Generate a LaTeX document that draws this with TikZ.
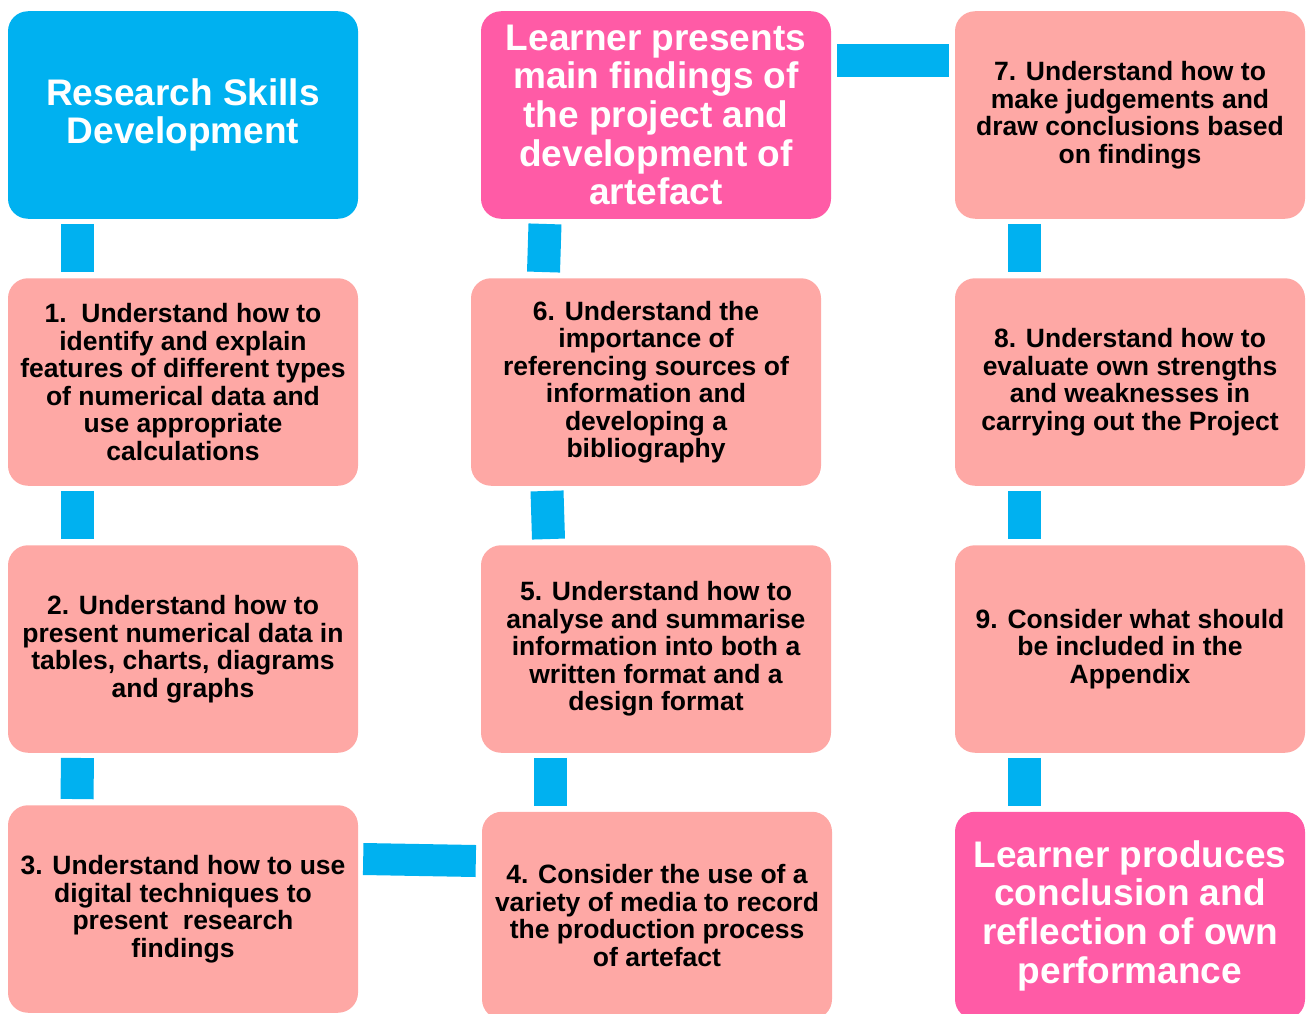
\documentclass[tikz,border=0pt]{standalone}
\usepackage{fontspec}
\setmainfont{Liberation Sans}
\usetikzlibrary{calc}
\definecolor{cblue}{HTML}{00B1F0}
\definecolor{hotpink}{HTML}{FF5BA6}
\definecolor{salmon}{HTML}{FEA8A5}
\tikzset{
  box/.style={rounded corners=20pt, minimum width=350pt, minimum height=207.5pt,
    inner sep=0pt, align=center},
  small/.style={box, fill=salmon, text=black,
    font=\fontsize{26.5}{27.5}\selectfont\bfseries},
  big/.style={box, text=white, font=\fontsize{37}{38.7}\selectfont\bfseries},
  conn/.style={draw=cblue, line width=33pt, line cap=butt}
}
\begin{document}
\begin{tikzpicture}[x=1pt, y=-1pt]
\useasboundingbox (0,0) rectangle (1306,1014);
% boxes
\node[big, fill=cblue] (rs) at (183,115) {Research Skills\\Development};
\node[big, fill=hotpink] (lp) at (656,115) {Learner presents\\main findings of\\the project and\\development of\\artefact};
\node[small] (b7) at (1130,115) {7. Understand how to\\make judgements and\\draw conclusions based\\on findings};
\node[small] (b1) at (183,382) {1.\ \ Understand how to\\identify and explain\\features of different types\\of numerical data and\\use appropriate\\calculations};
\node[small] (b6) at (646,382) {6. Understand the\\importance of\\referencing sources of\\information and\\developing a\\bibliography};
\node[small] (b8) at (1130,382) {8. Understand how to\\evaluate own strengths\\and weaknesses in\\carrying out the Project};
\node[small] (b2) at (183,649) {2. Understand how to\\present numerical data in\\tables, charts, diagrams\\and graphs};
\node[small] (b5) at (656,649) {5. Understand how to\\analyse and summarise\\information into both a\\written format and a\\design format};
\node[small] (b9) at (1130,649) {9. Consider what should\\be included in the\\Appendix};
\node[small] (b3) at (183,909) {3. Understand how to use\\digital techniques to\\present\ \ research\\findings};
\node[small] (b4) at (657,915.5) {4. Consider the use of a\\variety of media to record\\the production process\\of artefact};
\node[big, fill=hotpink] (lpro) at (1130,915.5) {Learner produces\\conclusion and\\reflection of own\\performance};
% connectors
\draw[conn] ($(rs.south)+(-105.5,5)$) -- ($(b1.north)+(-105.5,-6)$);
\draw[conn] ($(b1.south)+(-105.5,5)$) -- ($(b2.north)+(-105.5,-6)$);
\draw[conn] ($(b2.south)+(-105.5,5)$) -- ($(b3.north)+(-106,-6)$);
\draw[conn] ($(lp.south)+(-111,5)$) -- ($(b6.north)+(-102.5,-6)$);
\draw[conn] ($(b6.south)+(-99,5)$) -- ($(b5.north)+(-107.5,-6)$);
\draw[conn] ($(b5.south)+(-105.5,5)$) -- ($(b4.north)+(-106.5,-6)$);
\draw[conn] ($(b7.south)+(-105.5,5)$) -- ($(b8.north)+(-105.5,-6)$);
\draw[conn] ($(b8.south)+(-105.5,5)$) -- ($(b9.north)+(-105.5,-6)$);
\draw[conn] ($(b9.south)+(-105.5,5)$) -- ($(lpro.north)+(-105.5,-6)$);
\draw[conn] ($(lp.east)+(6,-54.5)$) -- ($(b7.west)+(-6,-54.5)$);
\draw[conn, line width=32pt] ($(b3.east)+(5,-50)$) -- ($(b4.west)+(-6,-54.5)$);
\end{tikzpicture}
\end{document}
